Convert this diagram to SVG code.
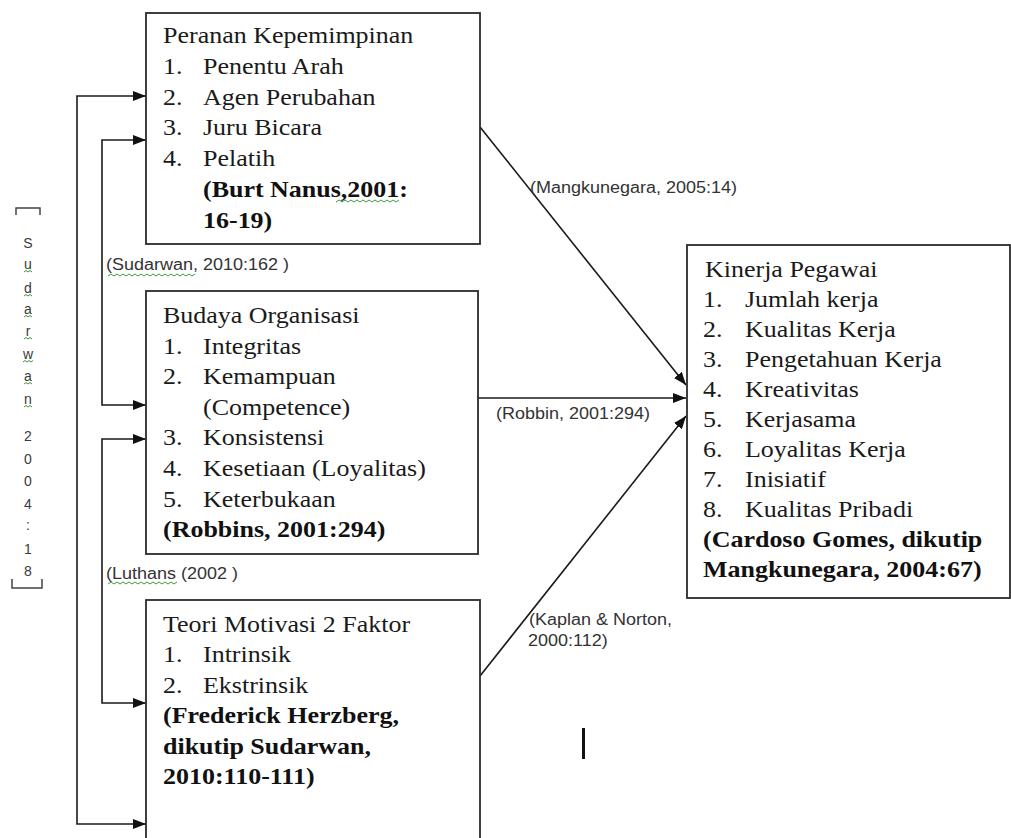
<svg xmlns="http://www.w3.org/2000/svg" width="1011" height="838" viewBox="0 0 1011 838">
<defs>
<style>
.box{fill:#fff;stroke:#2b2b2b;stroke-width:1.8}
.t{font-family:"Liberation Serif","Times New Roman",serif;font-size:26px;fill:#1a1a1a}
.b{font-weight:bold;fill:#111}
.l{font-family:"Liberation Sans",Arial,sans-serif;font-size:18px;fill:#333}
.v{font-family:"Liberation Sans",Arial,sans-serif;font-size:14px;fill:#3a3a3a;text-anchor:middle}
.c{fill:none;stroke:#1a1a1a;stroke-width:1.6}
.sq{fill:none;stroke:#3a9a3a;stroke-width:1}
.br{fill:none;stroke:#444;stroke-width:1.5}
</style>
<marker id="ah" markerUnits="userSpaceOnUse" markerWidth="13" markerHeight="10" refX="13" refY="5" orient="auto-start-reverse">
<path d="M0,0 L13,5 L0,10 z" fill="#111"/>
</marker>
</defs>
<rect width="1011" height="838" fill="#fff"/>

<g id="connectors">
<path class="c" d="M146,96 H77 V824 H146" marker-start="url(#ah)" marker-end="url(#ah)"/>
<path class="c" d="M146,140 H102 V405 H146" marker-start="url(#ah)" marker-end="url(#ah)"/>
<path class="c" d="M146,439 H102 V703 H146" marker-start="url(#ah)" marker-end="url(#ah)"/>
<path class="c" d="M480,127 L686,385" marker-end="url(#ah)"/>
<path class="c" d="M478,398 H686" marker-end="url(#ah)"/>
<path class="c" d="M480,676 L686,416" marker-end="url(#ah)"/>
<text class="l" transform="translate(530,193) scale(1,.88)">(Mangkunegara, 2005:14)</text>
<text class="l" transform="translate(496,419) scale(1,.88)">(Robbin, 2001:294)</text>
<text class="l" transform="translate(529,625) scale(1,.88)">(Kaplan &amp; Norton,</text>
<text class="l" transform="translate(528,646) scale(1,.88)">2000:112)</text>
<text class="l" transform="translate(106,270) scale(1,.88)">(Sudarwan, 2010:162 )</text>
<path class="sq" d="M108,276 l3,-2 l3,2 l3,-2 l3,2 l3,-2 l3,2 l3,-2 l3,2 l3,-2 l3,2 l3,-2 l3,2 l3,-2 l3,2 l3,-2 l3,2 l3,-2 l3,2 l3,-2 l3,2 l3,-2 l3,2 l3,-2 l3,2 l3,-2 l3,2 l3,-2 l3,2 l3,-2"/>
<text class="l" transform="translate(106,579) scale(1,.88)">(Luthans (2002 )</text>
<path class="sq" d="M108,584 l3,-2 l3,2 l3,-2 l3,2 l3,-2 l3,2 l3,-2 l3,2 l3,-2 l3,2 l3,-2 l3,2 l3,-2 l3,2 l3,-2 l3,2 l3,-2 l3,2 l3,-2 l3,2 l3,-2 l3,2 l3,-2"/>
</g>

<g id="side-label">
<path class="br" d="M16,215 V208 H40 V215"/>
<text class="v" x="28" y="248">S</text>
<text class="v" x="28" y="269">u</text>
<text class="v" x="28" y="293">d</text>
<text class="v" x="28" y="314">a</text>
<text class="v" x="28" y="336">r</text>
<text class="v" x="28" y="359">w</text>
<text class="v" x="28" y="381">a</text>
<text class="v" x="28" y="404">n</text>
<text class="v" x="28" y="441">2</text>
<text class="v" x="28" y="464">0</text>
<text class="v" x="28" y="486">0</text>
<text class="v" x="28" y="509">4</text>
<text class="v" x="28" y="530">:</text>
<text class="v" x="28" y="554">1</text>
<text class="v" x="28" y="576">8</text>
<path class="sq" d="M24,272 l2,-1.5 l2,1.5 l2,-1.5 l2,1.5 M24,296 l2,-1.5 l2,1.5 l2,-1.5 l2,1.5 M24,317 l2,-1.5 l2,1.5 l2,-1.5 l2,1.5 M24,339 l2,-1.5 l2,1.5 l2,-1.5 l2,1.5 M23,362 l2,-1.5 l2,1.5 l2,-1.5 l2,1.5 l2,-1.5 M24,384 l2,-1.5 l2,1.5 l2,-1.5 l2,1.5 M24,407 l2,-1.5 l2,1.5 l2,-1.5 l2,1.5"/>
<path class="br" d="M12,579 V588 H42 V579"/>
</g>

<g id="node-peranan">
<rect class="box" x="146" y="13" width="334" height="231"/>
<text class="t" transform="translate(163,43) scale(1,.88)">Peranan Kepemimpinan</text>
<text class="t" transform="translate(163,74) scale(1,.88)">1.<tspan x="40">Penentu Arah</tspan></text>
<text class="t" transform="translate(163,104.6) scale(1,.88)">2.<tspan x="40">Agen Perubahan</tspan></text>
<text class="t" transform="translate(163,135.4) scale(1,.88)">3.<tspan x="40">Juru Bicara</tspan></text>
<text class="t" transform="translate(163,166.2) scale(1,.88)">4.<tspan x="40">Pelatih</tspan></text>
<text class="t b" transform="translate(203,197) scale(1,.88)">(Burt Nanus,2001:</text>
<text class="t b" transform="translate(203,228) scale(1,.88)">16-19)</text>
<path class="sq" d="M336,202 l3,-2 l3,2 l3,-2 l3,2 l3,-2 l3,2 l3,-2 l3,2 l3,-2 l3,2 l3,-2 l3,2 l3,-2 l3,2 l3,-2 l3,2 l3,-2 l3,2 l3,-2 l3,2 l3,-2"/>
</g>

<g id="node-budaya">
<rect class="box" x="146" y="291" width="332" height="263"/>
<text class="t" transform="translate(163,323) scale(1,.88)">Budaya Organisasi</text>
<text class="t" transform="translate(163,353.6) scale(1,.88)">1.<tspan x="40">Integritas</tspan></text>
<text class="t" transform="translate(163,384.2) scale(1,.88)">2.<tspan x="40">Kemampuan</tspan></text>
<text class="t" transform="translate(203,414.8) scale(1,.88)">(Competence)</text>
<text class="t" transform="translate(163,445.4) scale(1,.88)">3.<tspan x="40">Konsistensi</tspan></text>
<text class="t" transform="translate(163,476) scale(1,.88)">4.<tspan x="40">Kesetiaan (Loyalitas)</tspan></text>
<text class="t" transform="translate(163,506.6) scale(1,.88)">5.<tspan x="40">Keterbukaan</tspan></text>
<text class="t b" transform="translate(163,537.2) scale(1,.88)">(Robbins, 2001:294)</text>
</g>

<g id="node-teori">
<rect class="box" x="146" y="600" width="334" height="260"/>
<text class="t" transform="translate(163,632) scale(1,.88)">Teori Motivasi 2 Faktor</text>
<text class="t" transform="translate(163,662.4) scale(1,.88)">1.<tspan x="40">Intrinsik</tspan></text>
<text class="t" transform="translate(163,692.8) scale(1,.88)">2.<tspan x="40">Ekstrinsik</tspan></text>
<text class="t b" transform="translate(163,723.2) scale(1,.88)">(Frederick Herzberg,</text>
<text class="t b" transform="translate(163,753.6) scale(1,.88)">dikutip Sudarwan,</text>
<text class="t b" transform="translate(163,784) scale(1,.88)">2010:110-111)</text>
</g>

<g id="node-kinerja">
<rect class="box" x="687" y="245" width="323" height="353"/>
<text class="t" transform="translate(705,277) scale(1,.88)">Kinerja Pegawai</text>
<text class="t" transform="translate(703,307) scale(1,.88)">1.<tspan x="42">Jumlah kerja</tspan></text>
<text class="t" transform="translate(703,337) scale(1,.88)">2.<tspan x="42">Kualitas Kerja</tspan></text>
<text class="t" transform="translate(703,367) scale(1,.88)">3.<tspan x="42">Pengetahuan Kerja</tspan></text>
<text class="t" transform="translate(703,397) scale(1,.88)">4.<tspan x="42">Kreativitas</tspan></text>
<text class="t" transform="translate(703,427) scale(1,.88)">5.<tspan x="42">Kerjasama</tspan></text>
<text class="t" transform="translate(703,457) scale(1,.88)">6.<tspan x="42">Loyalitas Kerja</tspan></text>
<text class="t" transform="translate(703,487) scale(1,.88)">7.<tspan x="42">Inisiatif</tspan></text>
<text class="t" transform="translate(703,517) scale(1,.88)">8.<tspan x="42">Kualitas Pribadi</tspan></text>
<text class="t b" transform="translate(703,547) scale(1,.88)">(Cardoso Gomes, dikutip</text>
<text class="t b" transform="translate(703,577) scale(1,.88)">Mangkunegara, 2004:67)</text>
</g>

<rect x="582" y="728" width="3" height="31" fill="#111"/>
</svg>
